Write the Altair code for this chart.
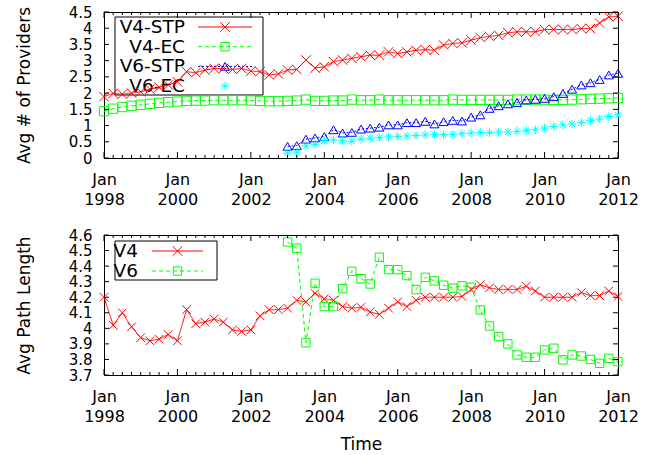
import altair as alt
import pandas as pd

# ---------------- data (quarterly, Jan 1998 .. Jan 2012) ----------------
quarters = [1998 + 0.25 * k for k in range(57)]
quarters_v6 = quarters[20:]  # IPv6 series start Jan 2003

v4_stp = [1.89, 1.99, 1.97, 2.00, 2.04, 2.12, 2.18, 2.25, 2.35, 2.66, 2.63, 2.71,
          2.76, 2.76, 2.73, 2.76, 2.68, 2.66, 2.56, 2.59, 2.71, 2.73, 3.02, 2.77,
          2.81, 2.97, 3.02, 3.07, 3.12, 3.17, 3.17, 3.27, 3.22, 3.27, 3.32, 3.34,
          3.32, 3.48, 3.53, 3.55, 3.63, 3.71, 3.75, 3.78, 3.86, 3.89, 3.89, 3.89,
          3.96, 3.96, 3.96, 3.96, 3.99, 3.99, 4.16, 4.35, 4.37]
v4_ec = [1.44, 1.52, 1.57, 1.61, 1.64, 1.67, 1.70, 1.72, 1.74, 1.76, 1.77, 1.77,
         1.78, 1.78, 1.78, 1.78, 1.77, 1.76, 1.75, 1.75, 1.76, 1.77, 1.80, 1.76,
         1.76, 1.77, 1.77, 1.80, 1.78, 1.78, 1.80, 1.78, 1.78, 1.78, 1.78, 1.78,
         1.78, 1.78, 1.80, 1.79, 1.79, 1.79, 1.79, 1.79, 1.79, 1.80, 1.80, 1.80,
         1.80, 1.79, 1.79, 1.80, 1.81, 1.82, 1.83, 1.84, 1.85]
v6_stp = [0.36, 0.38, 0.58, 0.62, 0.66, 0.87, 0.77, 0.79, 0.89, 0.92, 0.95, 1.02,
          1.02, 1.09, 1.09, 1.13, 1.05, 1.12, 1.16, 1.14, 1.26, 1.33, 1.53, 1.61,
          1.67, 1.71, 1.79, 1.81, 1.84, 1.89, 1.99, 2.12, 2.25, 2.32, 2.42, 2.56, 2.61]
v6_ec = [0.15, 0.18, 0.37, 0.42, 0.53, 0.55, 0.53, 0.52, 0.58, 0.61, 0.63, 0.65,
         0.66, 0.68, 0.69, 0.71, 0.72, 0.72, 0.73, 0.75, 0.77, 0.79, 0.78, 0.80,
         0.80, 0.82, 0.85, 0.87, 0.92, 0.97, 1.02, 1.05, 1.09, 1.16, 1.20, 1.28, 1.33]

path_v4 = [4.20, 4.02, 4.10, 4.01, 3.94, 3.92, 3.93, 3.96, 3.92, 4.12, 4.03, 4.04,
           4.06, 4.04, 3.99, 3.98, 3.99, 4.08, 4.12, 4.12, 4.13, 4.18, 4.17, 4.225,
           4.19, 4.18, 4.14, 4.13, 4.135, 4.105, 4.09, 4.13, 4.17, 4.14, 4.18, 4.20,
           4.20, 4.20, 4.20, 4.205, 4.25, 4.28, 4.26, 4.25, 4.25, 4.25, 4.27, 4.24,
           4.20, 4.20, 4.20, 4.20, 4.23, 4.21, 4.21, 4.24, 4.205]
path_v6 = [4.555, 4.515, 3.907, 4.29, 4.14, 4.14, 4.255, 4.367, 4.319, 4.285, 4.457, 4.377,
           4.377, 4.339, 4.249, 4.328, 4.305, 4.277, 4.258, 4.273, 4.264, 4.118, 4.015, 3.947,
           3.90, 3.829, 3.814, 3.814, 3.861, 3.872, 3.797, 3.829, 3.822, 3.80, 3.775, 3.807, 3.786]

top_series = ["V4-STP", "V4-EC", "V6-STP", "V6-EC"]
bot_series = ["V4", "V6"]
year_ticks = [1998, 2000, 2002, 2004, 2006, 2008, 2010, 2012]
top_y_ticks = [0, 0.5, 1, 1.5, 2, 2.5, 3, 3.5, 4, 4.5]
bot_y_ticks = [3.7, 3.8, 3.9, 4.0, 4.1, 4.2, 4.3, 4.4, 4.5, 4.6]

# ---------------- styling ----------------
FONT = "DejaVu Sans"
W, H1, H2 = 514, 146, 140
X_PATH = "M-1,-1L1,1M-1,1L1,-1"
STAR_PATH = "M-1,0L1,0M0,-1L0,1M-0.7,-0.7L0.7,0.7M-0.7,0.7L0.7,-0.7"

top_colors = ["#ff0000", "#00ff00", "#0000ff", "#00ffff"]
top_dash = [[1, 0], [4, 3], [2, 2], [1, 0]]
top_shapes = [X_PATH, "square", "triangle-up", STAR_PATH]
top_sizes = [90, 70, 80, 80]

bot_colors = ["#ff0000", "#00ff00"]
bot_dash = [[1, 0], [4, 3]]
bot_shapes = [X_PATH, "square"]
bot_sizes = [90, 70]

x_scale = alt.Scale(domain=[1998, 2012], nice=False, zero=False)


def frame(xs, ys, name):
    return pd.DataFrame({"x": xs, "value": ys, "series": name})


top_df = pd.concat([frame(quarters, v4_stp, "V4-STP"), frame(quarters, v4_ec, "V4-EC"),
                    frame(quarters_v6, v6_stp, "V6-STP"), frame(quarters_v6, v6_ec, "V6-EC")])
bot_df = pd.concat([frame(quarters, path_v4, "V4"), frame(quarters_v6, path_v6, "V6")])

minor_q = [q for q in quarters if q not in year_ticks]


def x_axis(title):
    kw = dict(values=year_ticks, format="d", labelExpr="['Jan', datum.label]",
              labelFlush=False, ticks=False, domain=False, grid=False,
              labelFont=FONT, labelFontSize=16, labelLineHeight=20, labelPadding=13,
              labelColor="black")
    if title:
        return alt.Axis(title=title, titleFont=FONT, titleFontSize=17, titleFontWeight="normal",
                        titleColor="black", titlePadding=12, **kw)
    return alt.Axis(title=None, **kw)


def y_axis(values, title, fs):
    return alt.Axis(values=values, format="~g", labelOverlap=False, ticks=False, domain=False,
                    grid=False, labelFont=FONT, labelFontSize=fs, labelPadding=12,
                    labelColor="black", title=title, titleFont=FONT, titleFontSize=17,
                    titleFontWeight="normal", titleColor="black", titlePadding=34.5)


def panel(df, series, colors, dashes, shapes, sizes, y_dom, y_vals, y_title, H,
          x_title, legend_geom, no_line, yfs):
    y_scale = alt.Scale(domain=y_dom, nice=False, zero=False)
    xa = x_axis(x_title)
    ya = y_axis(y_vals, y_title, yfs)
    X = alt.X("x:Q", scale=x_scale, axis=xa)
    Y = alt.Y("value:Q", scale=y_scale, axis=ya)
    cscale = alt.Scale(domain=series, range=colors)
    line_df = df[~df["series"].isin(no_line)]
    lines = alt.Chart(line_df).mark_line(strokeWidth=1).encode(
        x=X, y=Y,
        color=alt.Color("series:N", scale=cscale, legend=None),
        strokeDash=alt.StrokeDash("series:N", scale=alt.Scale(domain=series, range=dashes), legend=None),
    )
    pts = alt.Chart(df).mark_point(filled=False, strokeWidth=1, opacity=1).encode(
        x=X, y=Y,
        color=alt.Color("series:N", scale=cscale, legend=None),
        shape=alt.Shape("series:N", scale=alt.Scale(domain=series, range=shapes), legend=None),
        size=alt.Size("series:N", scale=alt.Scale(domain=series, range=sizes), legend=None),
    )
    layers = []
    # legend (gnuplot key: label right-aligned, then sample)
    bx0, bx1, by0, by1, tx, sx0, sx1, ry0, rdy = legend_geom
    one = pd.DataFrame({"a": [0]})
    layers.append(alt.Chart(one).mark_rect(fillOpacity=0, stroke="black", strokeWidth=1).encode(
        x=alt.value(bx0), x2=alt.value(bx1), y=alt.value(by0), y2=alt.value(by1)))
    for i, name in enumerate(series):
        ly = ry0 + rdy * i
        layers.append(alt.Chart(one).mark_text(align="right", baseline="middle", font=FONT,
                                               fontSize=18.5, color="black").encode(
            text=alt.value(name), x=alt.value(tx), y=alt.value(ly)))
        if name not in no_line:
            layers.append(alt.Chart(one).mark_rule(color=colors[i], strokeWidth=1,
                                                   strokeDash=dashes[i]).encode(
                x=alt.value(sx0), x2=alt.value(sx1), y=alt.value(ly)))
        layers.append(alt.Chart(one).mark_point(shape=shapes[i], size=sizes[i], filled=False,
                                                strokeWidth=1, color=colors[i], opacity=1).encode(
            x=alt.value((sx0 + sx1) / 2), y=alt.value(ly)))
    # data drawn over the (transparent) key, as in gnuplot
    layers += [lines, pts]
    # inward ticks (gnuplot style), mirrored on all four sides
    for vals, L in ((year_ticks, 6), (minor_q, 3)):
        tdf = pd.DataFrame({"x": vals})
        for y0, y1 in ((H, H - L), (0, L)):
            layers.append(alt.Chart(tdf).mark_rule(color="black", strokeWidth=1).encode(
                x=X, y=alt.value(y0), y2=alt.value(y1)))
    ydf = pd.DataFrame({"value": y_vals})
    for x0, x1 in ((0, 5), (W - 5, W)):
        layers.append(alt.Chart(ydf).mark_rule(color="black", strokeWidth=1).encode(
            y=Y, x=alt.value(x0), x2=alt.value(x1)))
    return alt.layer(*layers).properties(width=W, height=H)


top = panel(top_df, top_series, top_colors, top_dash, top_shapes, top_sizes,
            [0, 4.5], top_y_ticks, "Avg # of Providers", H1, None,
            (11, 159, 5, 83, 81, 94, 148, 15, 19.7), ["V6-EC"], 15)
bottom = panel(bot_df, bot_series, bot_colors, bot_dash, bot_shapes, bot_sizes,
               [3.7, 4.6], bot_y_ticks, "Avg Path Length", H2, "Time",
               (11, 113, 6, 45, 34, 48, 99, 16, 20), [], 15)

chart = alt.vconcat(top, bottom, spacing=19).properties(
    padding={"left": 15, "top": 4, "right": 10, "bottom": 0},
    background="white",
).configure_view(stroke="black", strokeWidth=1)

chart.save("out.html", embed_options={"renderer": "svg", "actions": False})
